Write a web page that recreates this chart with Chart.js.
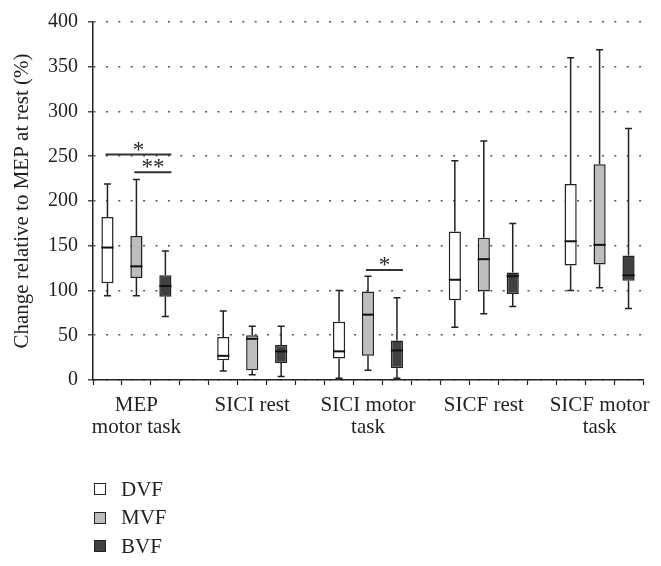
<!DOCTYPE html>
<html>
<head>
<meta charset="utf-8">
<script src="https://cdn.jsdelivr.net/npm/chart.js@4"></script>
<style>
  body { margin: 0; background: #fff; }
  #wrap { position: relative; width: 661px; height: 566px; }
  #legend { position: absolute; left: 94px; top: 475px; font-family: "Liberation Serif", serif; font-size: 21px; color: #231f20; }
  #legend div { height: 28.5px; display: flex; align-items: center; }
  #legend span.box { display: inline-block; width: 10px; height: 10px; border: 1.5px solid #222; margin-right: 15px; }
</style>
</head>
<body>
<div id="wrap">
  <canvas id="chart"></canvas>
  <div id="legend"></div>
</div>
<script>
// Groups along the x axis
const categories = [['MEP', 'motor task'], 'SICI rest', ['SICI motor', 'task'], 'SICF rest', ['SICF motor', 'task']];
const seriesNames = ['DVF', 'MVF', 'BVF'];
const yTicks = [0, 50, 100, 150, 200, 250, 300, 350, 400];

// Box plot values (one value per group)
const dvfMin = [94, 10, 2, 59, 100];
const dvfQ1 = [108, 22, 24, 89, 128];
const dvfMed = [148, 27, 32, 112, 155];
const dvfQ3 = [182, 48, 65, 166, 219];
const dvfMax = [219, 77, 100, 245, 360];

const mvfMin = [94, 6, 11, 74, 103];
const mvfQ1 = [114, 11, 27, 99, 129];
const mvfMed = [127, 46, 73, 135, 151];
const mvfQ3 = [161, 50, 99, 159, 241];
const mvfMax = [224, 60, 116, 267, 369];

const bvfMin = [71, 4, 2, 82, 80];
const bvfQ1 = [93, 19, 13, 96, 111];
const bvfMed = [105, 32, 33, 116, 117];
const bvfQ3 = [117, 39, 44, 120, 139];
const bvfMax = [144, 60, 92, 175, 281];

// Significance bars: [fromCell, toCell, value, mark]
const sigBars = [
    [0, 2, 252, '*'],
    [1, 2, 232, '**'],
    [9, 10, 123, '*']
];

const fills = ['#ffffff', '#bdbdbd', '#404040'];
const serif = '"Liberation Serif", serif';

// each group takes 3 cells plus one empty gap cell
const cellCount = categories.length * 4 - 1;
const cellLabels = [];
for (let i = 0; i < cellCount; i++) {
    cellLabels.push(i % 4 === 1 ? categories[(i - 1) / 4] : '');
}

const stats = [
    { min: dvfMin, q1: dvfQ1, med: dvfMed, q3: dvfQ3, max: dvfMax },
    { min: mvfMin, q1: mvfQ1, med: mvfMed, q3: mvfQ3, max: mvfMax },
    { min: bvfMin, q1: bvfQ1, med: bvfMed, q3: bvfQ3, max: bvfMax }
];

function boxData(s) {
    const data = new Array(cellCount).fill(null);
    stats[s].q1.forEach((q1, g) => {
        data[g * 4 + s] = [q1, stats[s].q3[g]];
    });
    return data;
}

const datasets = seriesNames.map((name, s) => ({
    label: name,
    data: boxData(s),
    backgroundColor: fills[s],
    borderColor: '#222',
    borderWidth: 1.5,
    borderSkipped: false,
    grouped: false,
    barPercentage: 0.42,
    categoryPercentage: 1
}));

// whiskers, medians and significance marks
const boxExtras = {
    id: 'boxExtras',
    afterDatasetsDraw(chart) {
        const ctx = chart.ctx;
        const y = chart.scales.y;
        const x = chart.scales.x;
        ctx.save();
        ctx.strokeStyle = '#222';
        stats.forEach((st, s) => {
            const meta = chart.getDatasetMeta(s);
            st.q1.forEach((q1, g) => {
                const el = meta.data[g * 4 + s];
                const cx = el.x;
                const half = el.width / 2;
                ctx.lineWidth = 1.5;
                ctx.beginPath();
                ctx.moveTo(cx, y.getPixelForValue(st.q3[g]));
                ctx.lineTo(cx, y.getPixelForValue(st.max[g]));
                ctx.moveTo(cx, y.getPixelForValue(q1));
                ctx.lineTo(cx, y.getPixelForValue(st.min[g]));
                ctx.moveTo(cx - 3.5, y.getPixelForValue(st.max[g]));
                ctx.lineTo(cx + 3.5, y.getPixelForValue(st.max[g]));
                ctx.moveTo(cx - 3.5, y.getPixelForValue(st.min[g]));
                ctx.lineTo(cx + 3.5, y.getPixelForValue(st.min[g]));
                ctx.stroke();
                ctx.lineWidth = 2;
                ctx.strokeStyle = '#111';
                ctx.beginPath();
                ctx.moveTo(cx - half, y.getPixelForValue(st.med[g]));
                ctx.lineTo(cx + half, y.getPixelForValue(st.med[g]));
                ctx.stroke();
                ctx.strokeStyle = '#222';
            });
        });
        ctx.lineWidth = 2;
        ctx.strokeStyle = '#333';
        ctx.fillStyle = '#231f20';
        ctx.font = '23px ' + serif;
        ctx.textAlign = 'center';
        ctx.textBaseline = 'middle';
        sigBars.forEach(([from, to, v, mark]) => {
            const x1 = x.getPixelForValue(from) - 2;
            const x2 = x.getPixelForValue(to) + 6;
            const py = y.getPixelForValue(v);
            ctx.beginPath();
            ctx.moveTo(x1, py);
            ctx.lineTo(x2, py);
            ctx.stroke();
            ctx.fillText(mark, (x1 + x2) / 2, py - 4);
        });
        ctx.restore();
    }
};

const chart = new Chart(document.getElementById('chart'), {
    type: 'bar',
    data: { labels: cellLabels, datasets: datasets },
    plugins: [boxExtras],
    options: {
        responsive: true,
        maintainAspectRatio: false,
        animation: false,
        layout: { padding: { top: 21, right: 18, left: 0, bottom: 0 } },
        plugins: {
            legend: { display: false },
            tooltip: { enabled: false }
        },
        scales: {
            x: {
                offset: true,
                afterFit: (scale) => { scale.height = 186; },
                grid: {
                    offset: true,
                    drawOnChartArea: false,
                    drawTicks: true,
                    tickLength: 5,
                    tickColor: '#222',
                    tickWidth: 1.2
                },
                border: { color: '#222', width: 1.5 },
                ticks: {
                    autoSkip: false,
                    maxRotation: 0,
                    padding: 9,
                    color: '#231f20',
                    font: { family: serif, size: 21, lineHeight: 1.05 }
                }
            },
            y: {
                min: 0,
                max: 400,
                afterFit: (scale) => { scale.width = 93; },
                afterBuildTicks: (scale) => { scale.ticks = yTicks.map(v => ({ value: v })); },
                grid: {
                    color: '#555',
                    lineWidth: 1.6,
                    tickLength: 5,
                    tickColor: '#222',
                    tickWidth: 1.2
                },
                border: { color: '#222', width: 1.5, dash: [2, 10.4] },
                ticks: {
                    padding: 10,
                    color: '#231f20',
                    font: { family: serif, size: 20 }
                },
                title: {
                    display: true,
                    text: 'Change relative to MEP at rest (%)',
                    color: '#231f20',
                    padding: { top: 10, bottom: 0 },
                    font: { family: serif, size: 21 }
                }
            }
        }
    }
});

// legend as plain html under the chart
document.getElementById('legend').innerHTML = chart.data.datasets.map(ds => `
    <div><span class="box" style="background:${ds.backgroundColor}"></span>${ds.label}</div>
`).join('');
</script>
</body>
</html>
